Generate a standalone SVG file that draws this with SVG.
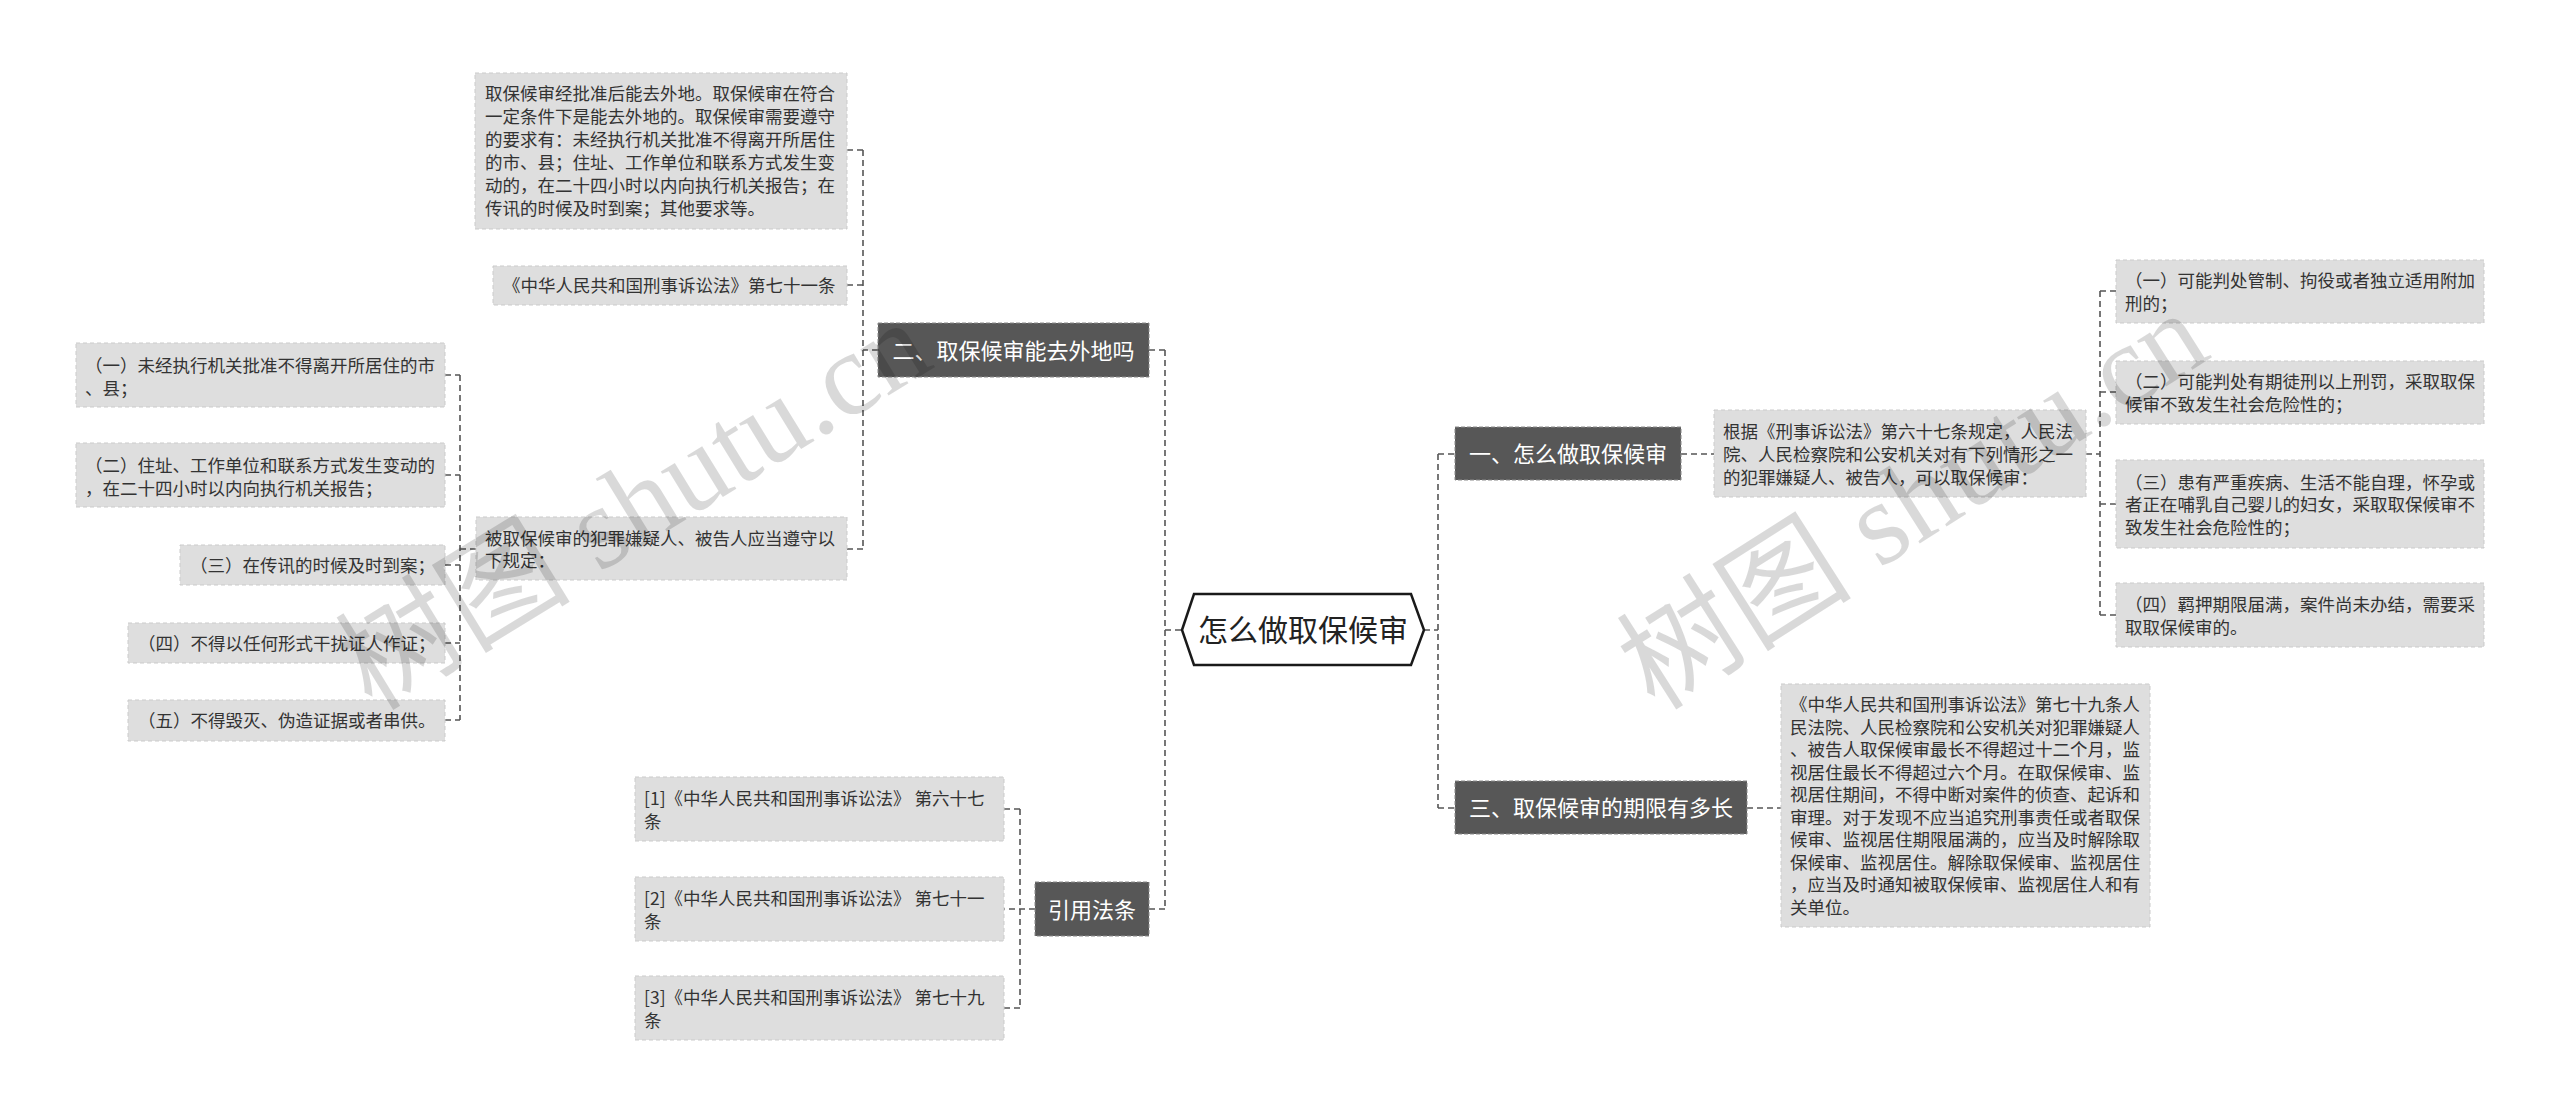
<svg xmlns="http://www.w3.org/2000/svg" width="2560" height="1117" viewBox="0 0 2560 1117">
<style>
text{font-family:"Noto Sans CJK SC","Noto Sans",sans-serif;}
.leaf rect{fill:#dedede;stroke:#cbcbcb;stroke-width:1;stroke-dasharray:4 3;}
.leaf text{font-size:17.5px;fill:#333;}
.branch rect{fill:#575757;stroke:#8a8a8a;stroke-width:1;stroke-dasharray:4 2;}
.branch text{font-size:22px;fill:#fff;text-anchor:middle;}
.conn path{fill:none;stroke:#555;stroke-width:1.6;stroke-dasharray:6 4;}
.wm{font-family:"Liberation Serif","Noto Sans CJK SC",serif;font-size:118px;fill:#000;fill-opacity:0.15;}
</style>
<rect width="2560" height="1117" fill="#fff"/>

<g class="conn" id="connectors">
<path d="M1165,630 H1182 M1165,350 V909 M1149,350 H1165 M1149,909 H1165"/>
<path d="M1424,630 H1438 M1438,454 V808 M1438,454 H1455 M1438,808 H1455"/>
<path d="M878,350 H863 M863,150 V549 M847,150 H863 M847,285 H863 M847,549 H863"/>
<path d="M476,549 H460 M460,375 V720 M445,375 H460 M445,475 H460 M445,565 H460 M445,643 H460 M445,720 H460"/>
<path d="M1035,909 H1004 M1020,809 V1008 M1004,809 H1020 M1004,1008 H1020"/>
<path d="M1681,454 H1714 M2086,454 H2100 M2100,291 V615 M2100,291 H2116 M2100,392 H2116 M2100,504 H2116 M2100,615 H2116"/>
<path d="M1747,808 H1781"/>
</g>

<g id="center">
<polygon points="1182,630 1194,594 1411,594 1424,630 1411,665 1194,665" fill="#fff" stroke="#1a1a1a" stroke-width="2.5"/>
<text x="1303" y="641" font-size="30" fill="#222" text-anchor="middle">怎么做取保候审</text>
</g>

<g class="branch" id="b2"><rect x="878" y="323" width="271" height="54"/><text x="1013.5" y="358.5">二、取保候审能去外地吗</text></g>
<g class="branch" id="bref"><rect x="1035" y="882" width="114" height="54"/><text x="1092" y="917.5">引用法条</text></g>
<g class="branch" id="b1"><rect x="1455" y="427" width="226" height="53"/><text x="1568" y="462">一、怎么做取保候审</text></g>
<g class="branch" id="b3"><rect x="1455" y="781" width="292" height="53"/><text x="1601" y="816">三、取保候审的期限有多长</text></g>

<g class="leaf" id="a1"><rect x="475" y="73" width="372" height="156"/>
<text x="485"><tspan x="485" y="100.2">取保候审经批准后能去外地。取保候审在符合</tspan><tspan x="485" y="123.2">一定条件下是能去外地的。取保候审需要遵守</tspan><tspan x="485" y="146.2">的要求有：未经执行机关批准不得离开所居住</tspan><tspan x="485" y="169.2">的市、县；住址、工作单位和联系方式发生变</tspan><tspan x="485" y="192.2">动的，在二十四小时以内向执行机关报告；在</tspan><tspan x="485" y="215.2">传讯的时候及时到案；其他要求等。</tspan></text></g>
<g class="leaf" id="a2"><rect x="493" y="266" width="354" height="39"/><text x="503" y="292.2">《中华人民共和国刑事诉讼法》第七十一条</text></g>
<g class="leaf" id="a3"><rect x="476" y="517" width="371" height="63"/>
<text><tspan x="485" y="544.7">被取保候审的犯罪嫌疑人、被告人应当遵守以</tspan><tspan x="485" y="567.2">下规定：</tspan></text></g>

<g class="leaf" id="l1"><rect x="76" y="343" width="369" height="64"/>
<text><tspan x="85" y="371.7">（一）未经执行机关批准不得离开所居住的市</tspan><tspan x="85" y="394.7">、县；</tspan></text></g>
<g class="leaf" id="l2"><rect x="76" y="443" width="369" height="64"/>
<text><tspan x="85" y="471.7">（二）住址、工作单位和联系方式发生变动的</tspan><tspan x="85" y="494.7">，在二十四小时以内向执行机关报告；</tspan></text></g>
<g class="leaf" id="l3"><rect x="180" y="545" width="265" height="40"/><text x="190" y="571.7">（三）在传讯的时候及时到案；</text></g>
<g class="leaf" id="l4"><rect x="128" y="623" width="317" height="40"/><text x="138" y="649.7">（四）不得以任何形式干扰证人作证；</text></g>
<g class="leaf" id="l5"><rect x="128" y="700" width="317" height="41"/><text x="138" y="726.7">（五）不得毁灭、伪造证据或者串供。</text></g>

<g class="leaf" id="r1"><rect x="635" y="777" width="369" height="64"/>
<text><tspan x="644" y="804.7">[1]《中华人民共和国刑事诉讼法》 第六十七</tspan><tspan x="644" y="827.7">条</tspan></text></g>
<g class="leaf" id="r2"><rect x="635" y="877" width="369" height="64"/>
<text><tspan x="644" y="904.7">[2]《中华人民共和国刑事诉讼法》 第七十一</tspan><tspan x="644" y="927.7">条</tspan></text></g>
<g class="leaf" id="r3"><rect x="635" y="976" width="369" height="64"/>
<text><tspan x="644" y="1003.7">[3]《中华人民共和国刑事诉讼法》 第七十九</tspan><tspan x="644" y="1026.7">条</tspan></text></g>

<g class="leaf" id="k1"><rect x="1714" y="410" width="372" height="87"/>
<text><tspan x="1723" y="438.2">根据《刑事诉讼法》第六十七条规定，人民法</tspan><tspan x="1723" y="461.2">院、人民检察院和公安机关对有下列情形之一</tspan><tspan x="1723" y="484.2">的犯罪嫌疑人、被告人，可以取保候审：</tspan></text></g>
<g class="leaf" id="q1"><rect x="2116" y="260" width="368" height="63"/>
<text><tspan x="2125" y="286.7">（一）可能判处管制、拘役或者独立适用附加</tspan><tspan x="2125" y="309.7">刑的；</tspan></text></g>
<g class="leaf" id="q2"><rect x="2116" y="361" width="368" height="63"/>
<text><tspan x="2125" y="387.7">（二）可能判处有期徒刑以上刑罚，采取取保</tspan><tspan x="2125" y="410.7">候审不致发生社会危险性的；</tspan></text></g>
<g class="leaf" id="q3"><rect x="2116" y="460" width="368" height="88"/>
<text><tspan x="2125" y="488.7">（三）患有严重疾病、生活不能自理，怀孕或</tspan><tspan x="2125" y="511.2">者正在哺乳自己婴儿的妇女，采取取保候审不</tspan><tspan x="2125" y="533.7">致发生社会危险性的；</tspan></text></g>
<g class="leaf" id="q4"><rect x="2116" y="583" width="368" height="64"/>
<text><tspan x="2125" y="610.7">（四）羁押期限届满，案件尚未办结，需要采</tspan><tspan x="2125" y="633.7">取取保候审的。</tspan></text></g>
<g class="leaf" id="k3"><rect x="1781" y="684" width="369" height="243"/>
<text><tspan x="1790" y="711.2">《中华人民共和国刑事诉讼法》第七十九条人</tspan><tspan x="1790" y="733.7">民法院、人民检察院和公安机关对犯罪嫌疑人</tspan><tspan x="1790" y="756.2">、被告人取保候审最长不得超过十二个月，监</tspan><tspan x="1790" y="778.7">视居住最长不得超过六个月。在取保候审、监</tspan><tspan x="1790" y="801.2">视居住期间，不得中断对案件的侦查、起诉和</tspan><tspan x="1790" y="823.7">审理。对于发现不应当追究刑事责任或者取保</tspan><tspan x="1790" y="846.2">候审、监视居住期限届满的，应当及时解除取</tspan><tspan x="1790" y="868.7">保候审、监视居住。解除取保候审、监视居住</tspan><tspan x="1790" y="891.2">，应当及时通知被取保候审、监视居住人和有</tspan><tspan x="1790" y="913.7">关单位。</tspan></text></g>

<text class="wm" transform="translate(372,712) rotate(-31.5)">树图 shutu.cn</text>
<text class="wm" transform="translate(1655,712) rotate(-32.5)">树图 shutu.cn</text>
</svg>
